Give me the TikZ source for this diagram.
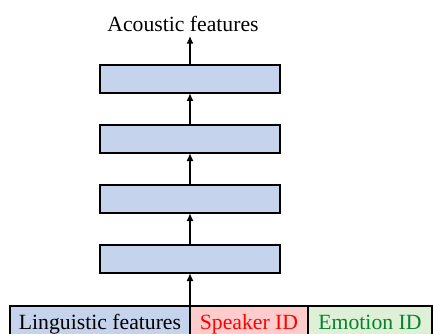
\documentclass[tikz,border=0pt]{standalone}
\usepackage{fontspec}
\setmainfont{Liberation Serif}
\usetikzlibrary{arrows.meta,positioning}
\usepackage{xcolor}
\definecolor{layerblue}{RGB}{198,211,236}
\definecolor{spkpink}{RGB}{255,204,204}
\definecolor{emogreen}{RGB}{222,240,214}
\definecolor{emotext}{RGB}{10,128,50}

\begin{document}
\begin{tikzpicture}[x=1pt, y=-1pt, node distance=32pt,
    font=\fontsize{21.7}{26}\selectfont,
    layer/.style={draw,line width=1.3pt,fill=layerblue,minimum width=180pt,minimum height=28pt,outer sep=0pt},
    cell/.style={draw,line width=1.3pt,minimum height=42pt,text height=0.7em,text depth=0.22em,inner sep=0pt,outer sep=0pt},
    flow/.style={-{Latex[length=8pt,width=7pt]},line width=2.3pt}]
    \useasboundingbox (0,0) rectangle (433,334);
    % input row
    \node[cell,fill=layerblue,minimum width=180pt] (ling) at (100,327) {Linguistic features};
    \node[cell,fill=spkpink,text=red,minimum width=118pt,right=0pt of ling] (spk) {Speaker ID};
    \node[cell,fill=emogreen,text=emotext,minimum width=124pt,right=0pt of spk] (emo) {Emotion ID};
    % layers
    \node[layer] (l4) at (190,259) {};
    \node[layer,above=of l4] (l3) {};
    \node[layer,above=of l3] (l2) {};
    \node[layer,above=of l2] (l1) {};
    \node[anchor=base] (out) at (183,32) {Acoustic features};
    \draw[flow] (ling.north east) -- (l4);
    \draw[flow] (l4) -- (l3);
    \draw[flow] (l3) -- (l2);
    \draw[flow] (l2) -- (l1);
    \draw[flow] (l1) -- (l1 |- out.south);
\end{tikzpicture}
\end{document}
